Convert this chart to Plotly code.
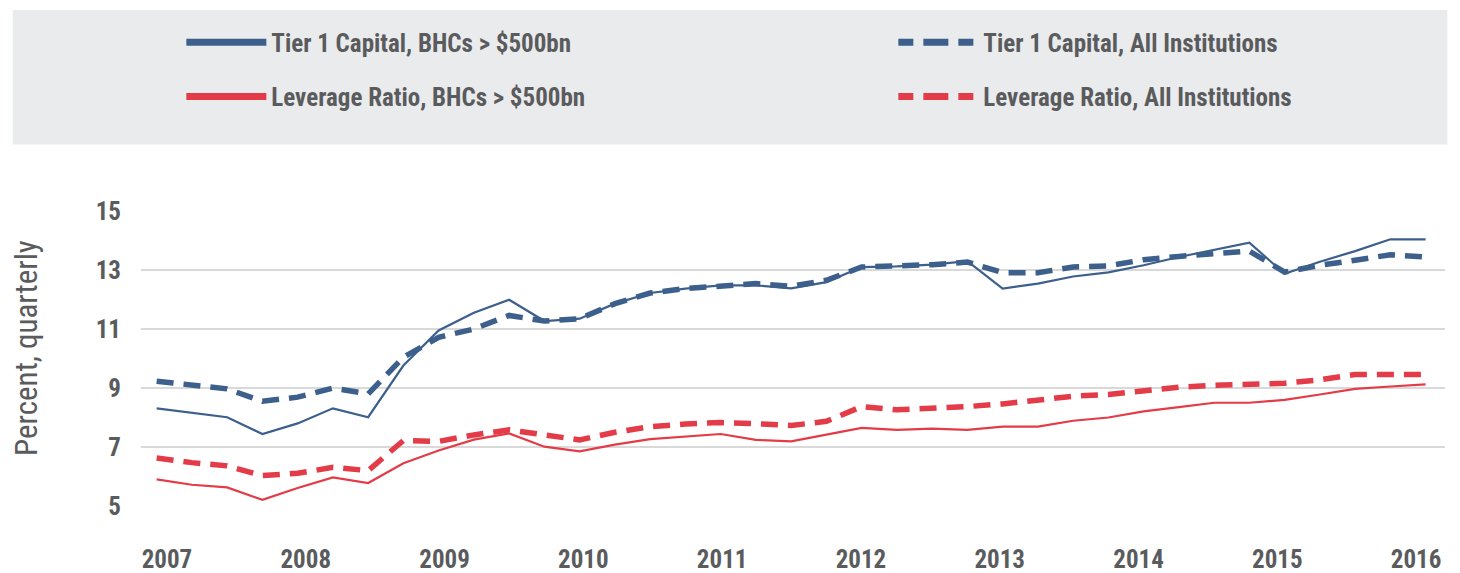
import plotly.graph_objects as go

# ---- data (quarterly, 2007Q1 .. 2016Q1) ----
quarters = [f"{y}Q{q}" for y in range(2007, 2017) for q in range(1, 5)][:37]

tier1_bhc = [8.31, 8.16, 8.01, 7.44, 7.80, 8.31, 8.01, 9.76, 10.95, 11.55,
             11.99, 11.27, 11.35, 11.86, 12.22, 12.37, 12.48, 12.48, 12.38, 12.59,
             13.10, 13.12, 13.18, 13.30, 12.37, 12.54, 12.78, 12.92, 13.16, 13.44,
             13.69, 13.93, 12.87, 13.28, 13.64, 14.04, 14.04]
tier1_all = [9.23, 9.11, 8.97, 8.55, 8.69, 9.00, 8.80, 10.04, 10.72, 11.00,
             11.46, 11.27, 11.35, 11.86, 12.22, 12.37, 12.45, 12.54, 12.45, 12.65,
             13.10, 13.12, 13.18, 13.27, 12.91, 12.91, 13.10, 13.14, 13.35, 13.46,
             13.55, 13.64, 12.93, 13.16, 13.33, 13.52, 13.44]
lev_bhc = [5.90, 5.72, 5.63, 5.21, 5.61, 5.97, 5.78, 6.45, 6.88, 7.25,
           7.46, 7.01, 6.85, 7.08, 7.27, 7.36, 7.44, 7.24, 7.19, 7.42,
           7.65, 7.58, 7.62, 7.58, 7.69, 7.69, 7.89, 8.00, 8.21, 8.35,
           8.50, 8.50, 8.60, 8.78, 8.97, 9.05, 9.12]
lev_all = [6.63, 6.47, 6.36, 6.03, 6.11, 6.31, 6.20, 7.22, 7.19, 7.41,
           7.58, 7.39, 7.24, 7.50, 7.69, 7.78, 7.83, 7.79, 7.73, 7.87,
           8.37, 8.26, 8.30, 8.37, 8.46, 8.57, 8.72, 8.78, 8.91, 9.03,
           9.09, 9.14, 9.16, 9.28, 9.46, 9.46, 9.46]

year_labels = [str(y) for y in range(2007, 2017)]
y_ticks = [5, 7, 9, 11, 13, 15]

names = ["Tier 1 Capital, BHCs > $500bn", "Tier 1 Capital, All Institutions",
         "Leverage Ratio, BHCs > $500bn", "Leverage Ratio, All Institutions"]

# ---- styling ----
BLUE = "#3c5f8c"
RED = "#e33b47"
TXT = "#5a5b5d"
GRID = "#d9d9d9"
BOX = "#eaebed"
FONT = "Liberation Sans Narrow, Roboto Condensed, Roboto, sans-serif"
LEG_DASH = "15px,10px,25px,10px,15px,200px"

def qx(q):
    return int(q[:4]) + (int(q[-1]) - 1) / 4.0

x = [qx(q) for q in quarters]
# year label positions (labels sit slightly inside the year points in the original)
tick_pos = [2007.073 + 0.9844 * i for i in range(len(year_labels))]

fig = go.Figure()

series = [(tier1_bhc, BLUE, "solid", 2.2), (lev_bhc, RED, "solid", 2.2),
          (tier1_all, BLUE, "17px,10px", 5.5), (lev_all, RED, "17px,10px", 5.5)]
for vals, col, dash, w in series:
    fig.add_trace(go.Scatter(x=x, y=vals, mode="lines", showlegend=False,
                             line=dict(color=col, width=w, dash=dash),
                             hoverinfo="skip"))

# legend entries (thick samples as in the original)
leg = [(names[0], BLUE, "solid", "legend"), (names[1], BLUE, LEG_DASH, "legend"),
       (names[2], RED, "solid", "legend2"), (names[3], RED, LEG_DASH, "legend2")]
for nm, col, dash, lg in leg:
    fig.add_trace(go.Scatter(x=[None], y=[None], mode="lines", name=nm, legend=lg,
                             line=dict(color=col, width=7, dash=dash)))

legend_common = dict(orientation="h", xanchor="left", yanchor="middle",
                     entrywidth=576, entrywidthmode="pixels", itemwidth=80,
                     indentation=41,
                     bgcolor="rgba(0,0,0,0)",
                     font=dict(family=FONT, size=25, color=TXT, weight="bold"))

# the page adds an 8px offset, so the figure is drawn 8px smaller and shifted
fig.update_layout(
    width=1452, height=565,
    margin=dict(l=133, r=15, t=203, b=67, autoexpand=False),
    paper_bgcolor="white", plot_bgcolor="white",
    legend=dict(x=-0.0005, y=1.5716, **legend_common),
    legend2=dict(x=-0.0005, y=1.387, **legend_common),
    shapes=[dict(type="rect", xref="paper", yref="paper", layer="below",
                 x0=-0.0984, x1=1.0018, y0=1.2254, y1=1.6813,
                 fillcolor=BOX, line=dict(width=0))],
    annotations=[dict(text="Percent, quarterly", xref="paper", yref="paper",
                      x=-0.0874, y=0.536, xanchor="center", yanchor="middle",
                      textangle=-90, showarrow=False,
                      font=dict(family=FONT, size=31, color=TXT))],
)

fig.update_xaxes(range=[2006.889, 2016.1375], tickmode="array",
                 tickvals=tick_pos, ticktext=year_labels,
                 showgrid=False, zeroline=False, showline=False,
                 ticks="outside", ticklen=31, tickcolor="rgba(0,0,0,0)",
                 tickfont=dict(family=FONT, size=25, color=TXT, weight="bold"))
fig.update_yaxes(range=[5, 15], tickmode="array", tickvals=y_ticks,
                 showgrid=True, gridcolor=GRID, gridwidth=1.5,
                 zeroline=False, showline=False,
                 ticks="outside", ticklen=14, tickcolor="rgba(0,0,0,0)",
                 tickfont=dict(family=FONT, size=25, color=TXT, weight="bold"))

fig.write_html("out.html")
